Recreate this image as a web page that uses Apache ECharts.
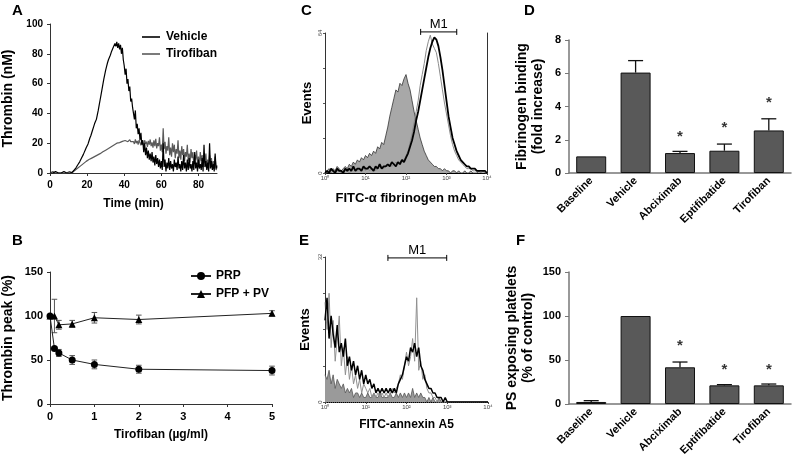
<!DOCTYPE html>
<html><head><meta charset="utf-8">
<script src="https://cdn.jsdelivr.net/npm/echarts@6/dist/echarts.min.js"></script>
<style>html,body{margin:0;padding:0;background:#fff}#c{width:793px;height:463px}</style>
</head><body><div id="c"></div>
<script>
// ---------- Panel A: thrombin generation (nM), sampled every 0.5 min from 0 to 90 ----------
const timeStepA = 0.5;
const vehicleA = [
 0,0,1,0,0,0,1,0,0,0,0,1,0,0,0,1,0,0,0,0,1,0,0,0,
 0.5,1.2,2,2.8,3.5,4.5,5.5,6.5,7.5,8.7,10,11.2,12.5,14,15.5,17,
 18,19.5,21.5,23.5,25,27,29,31,33,34.5,36,39,42,45.5,49,52.5,56,59.5,63,66,
 69,71.5,74,76,77.5,79,81,82.5,84,85,
 87,85,88,84,87,83,86,80,84,76,
 72,66,70,60,63,55,58,48,50,44,
 40,36,42,30,33,26,30,22,27,19,
 22,14,20,12,17,10,15,9,13,8,
 14,7,11,5,12,6,10,4,9,3,
 8,2,20,4,9,1,7,3,10,2,
 8,3,6,1,9,4,7,2,11,3,
 6,1,8,2,12,3,7,1,9,2,
 10,3,6,1,8,2,14,3,7,1,
 9,3,6,2,10,1,19,4,8,2,
 7,1,20,3,8,2,6,1,13,3,
 5];
const tirofibanA = [
 0,0,0,1,0,0,0,0,1,0,0,0,0,0,1,0,0,0,0,0,0,1,0,0,
 0.3,0.8,1.3,1.8,2.3,2.8,3.3,3.8,4.3,4.8,5.3,5.8,6.3,6.8,7.3,7.8,
 8.2,8.6,9,9.3,9.6,10,10.3,10.6,11,11.4,11.7,12,12.4,12.7,13,13.4,13.8,14.2,14.6,15,
 15.3,15.6,16,16.4,16.8,17.2,17.6,18,18.4,18.8,
 19.2,19.6,20,20.5,21,20.4,21.5,20.8,21.2,22,
 20.6,21.8,20.5,22,21,20.3,22.4,21,20.6,22,
 21,19.5,22.5,20,21.5,19,22,20.5,18.5,21.5,
 20,18,22,19.5,21,17.5,21.5,19,22.5,18,
 20.5,17,22,18,23,16.5,20,18,24,15,
 19,14,30,16,21,13,18,15,24,12,
 17,11,20,14,19,10,16,13,22,10,
 15,9,18,12,16,8,14,11,19,8,
 13,7,16,10,14,6,12,9,15,6,
 11,5,14,8,12,4,10,7,13,4,
 9,3,12,6,10,3,8,5,11,2,
 4];
const legendA = ['Vehicle', 'Tirofiban'];

// ---------- Panel B: thrombin peak (%) vs tirofiban dose ----------
const doseB = [0, 0.1, 0.2, 0.5, 1, 2, 5];
const prpB = [100, 63, 58, 50, 45, 39.5, 38];
const prpErrB = [0, 2, 4, 5, 5, 4.5, 5];
const pfpB = [100, 100, 90, 91, 98, 96, 103];
const pfpErrB = [0, 19, 5, 4, 6, 5, 3];

// ---------- Panels C & E: flow cytometry histograms, bins every 0.05 decade from 10^0 to 10^4 ----------
const histStepDecades = 0.05;
const cControl = [0,1,2,1,2,1,3,2,1,2,3, 2,4,3,5,4,6,5,7,6,8, 7,9,8,10,9,12,11,14,13,17,
 21,26,30,34,38,37,41,40,43,45, 41,38,33,28,24,20,16,13,10,8, 6,5,4,3,3,2,2,1,2,1,
 1,0,1,1,0,1,0,0,1,0,0,1,0,0,0,1,0,0,0,0];
const cBlack = [0,1,0,2,1,0,2,1,1,0,2, 1,2,1,3,1,2,2,1,3,2, 2,3,2,1,3,2,4,2,3,3,
 4,3,5,4,3,5,4,6,5,7, 9,12,15,19,24,28,33,38,43,48, 53,57,60,62,61,58,53,47,40,33,
 26,21,16,13,10,8,6,5,4,3, 3,2,2,2,1,1,1,1,1,0];
const cGray = [0,0,1,0,1,0,1,1,0,1,1, 1,0,1,2,1,1,2,1,2,1, 2,1,2,2,1,2,3,2,2,3,
 3,4,3,4,5,4,5,6,6,8, 10,14,18,23,28,33,40,45,50,56, 60,63,59,57,55,50,44,38,32,27,
 22,17,13,10,8,6,5,4,3,2, 2,2,1,1,1,1,0,1,0,0];
const m1C = [230, 1790, 64.5];
const eControl = [6,5,7,4,6,3,5,4,3,4,2, 3,2,3,1,2,2,1,2,1,1, 2,1,1,2,1,1,2,1,1,1,
 1,2,1,1,2,1,2,1,2,1, 2,1,3,1,2,1,2,1,1,0, 1,0,1,0,0,1,0,0,0,0,
 0,0,0,0,0,0,0,0,0,0, 0,0,0,0,0,0,0,0,0,0];
const eBlack = [18,23,14,19,15,12,17,11,13,10,14, 8,10,7,9,6,8,5,7,4,6, 4,5,3,4,2,3,2,3,2,3,
 2,3,2,3,2,4,5,6,8,10, 9,12,11,13,10,12,8,7,5,4, 3,3,2,2,1,1,1,0,1,0,
 0,0,0,0,0,0,0,0,0,0, 0,0,0,0,0,0,0,0,0,0];
const eGray = [22,16,24,12,18,9,14,19,8,12,6, 10,5,8,4,6,3,5,2,4,3, 2,3,1,2,1,2,1,2,1,2,
 1,2,3,2,3,4,6,5,8,11, 8,10,14,9,23,7,9,5,6,3, 2,2,1,1,0,0,0,0,0,0,
 0,0,0,0,0,0,0,0,0,0, 0,0,0,0,0,0,0,0,0,0];
const m1E = [35, 970, 31.8];

// ---------- Panels D & F: bar charts ----------
const categories = ['Baseline', 'Vehicle', 'Abciximab', 'Eptifibatide', 'Tirofiban'];
const fibrinogenD = [1.0, 6.04, 1.2, 1.34, 2.56];
const fibrinogenTopD = [null, 6.76, 1.3, 1.74, 3.26];
const starD = [null, null, 2.16, 2.72, 4.22];
const psF = [2.3, 100, 41.7, 21.2, 21.2];
const psTopF = [3.8, null, 47.7, 22, 22.7];
const starF = [null, null, 65.6, 38.3, 38.3];

// ---------------------------------------------------------------
const FONT = "'Liberation Sans', Arial, Helvetica, sans-serif";
const chart = echarts.init(document.getElementById('c'), null, {renderer: 'canvas', width: 793, height: 463});

const tA = vehicleA.map((_, i) => i * timeStepA);
const pairs = (xs, ys) => ys.map((y, i) => [xs[i], y]);
const bins = cControl.map((_, i) => Math.pow(10, i * histStepDecades));
const sup = {'0': '⁰', '1': '¹', '2': '²', '3': '³', '4': '⁴'};
const logLabel = v => '10' + sup[String(Math.round(Math.log10(v)))];

function errBars(capHalf, color, width, both) {
  return function (params, api) {
    const x = api.value(0), lo = api.value(1), hi = api.value(2);
    const a = api.coord([x, lo]), b = api.coord([x, hi]);
    const st = {stroke: color, lineWidth: width, fill: null};
    const ch = [
      {type: 'line', shape: {x1: a[0], y1: a[1], x2: b[0], y2: b[1]}, style: st},
      {type: 'line', shape: {x1: b[0] - capHalf, y1: b[1], x2: b[0] + capHalf, y2: b[1]}, style: st}
    ];
    if (both) ch.push({type: 'line', shape: {x1: a[0] - capHalf, y1: a[1], x2: a[0] + capHalf, y2: a[1]}, style: st});
    return {type: 'group', children: ch};
  };
}
function m1Render(params, api) {
  const a = api.coord([api.value(0), api.value(2)]);
  const b = api.coord([api.value(1), api.value(2)]);
  const st = {stroke: '#000', lineWidth: 1};
  return {type: 'group', children: [
    {type: 'line', shape: {x1: a[0], y1: a[1], x2: b[0], y2: b[1]}, style: st},
    {type: 'line', shape: {x1: a[0], y1: a[1] - 3, x2: a[0], y2: a[1] + 3}, style: st},
    {type: 'line', shape: {x1: b[0], y1: b[1] - 3, x2: b[0], y2: b[1] + 3}, style: st},
    {type: 'text', x: (a[0] + b[0]) / 2, y: a[1] - 1,
      style: {text: 'M1', fill: '#000', fontSize: 13, fontFamily: FONT, align: 'center', verticalAlign: 'bottom'}}
  ]};
}

const darkAxis = {lineStyle: {color: '#333', width: 1}};
const boldLbl = (size) => ({fontSize: size, fontWeight: 'bold', color: '#000', fontFamily: FONT});
const noSplit = {show: false};

const letters = [['A', 12, 3], ['B', 12, 233], ['C', 301, 3], ['D', 524, 3], ['E', 299, 233], ['F', 516, 233]];

const option = {
  animation: false,
  backgroundColor: '#fff',
  textStyle: {fontFamily: FONT},
  title: letters.map(l => ({text: l[0], left: l[1], top: l[2], padding: 0,
    textStyle: {fontSize: 15, fontWeight: 'bold', color: '#000', fontFamily: FONT}})),
  legend: [
    {data: legendA.map(n => ({name: n, icon: 'rect'})), orient: 'vertical', left: 137, top: 26,
      itemWidth: 18, itemHeight: 1.6, itemGap: 5,
      textStyle: Object.assign(boldLbl(12), {padding: [0, 0, 0, 1]}), selectedMode: false},
    {data: ['PRP', 'PFP + PV'], orient: 'vertical', left: 185, top: 265, itemWidth: 20, itemHeight: 10, itemGap: 6,
      textStyle: Object.assign(boldLbl(12), {padding: [0, 0, 0, 0]}), selectedMode: false}
  ],
  grid: [
    {left: 50, top: 24, width: 167, height: 149},
    {left: 50, top: 272, width: 222, height: 132},
    {left: 325, top: 33, width: 162, height: 140},
    {left: 325, top: 257, width: 163, height: 145},
    {left: 569, top: 40, width: 222, height: 133},
    {left: 569, top: 272, width: 222, height: 132}
  ],
  xAxis: [
    {gridIndex: 0, type: 'value', min: 0, max: 90, splitLine: noSplit, axisLine: darkAxis,
      axisTick: {length: 3, customValues: [0, 20, 40, 60, 80], lineStyle: {color: '#333'}},
      axisLabel: Object.assign(boldLbl(10), {margin: 7, customValues: [0, 20, 40, 60, 80]}),
      name: 'Time (min)', nameLocation: 'middle', nameGap: 25, nameTextStyle: boldLbl(12)},
    {gridIndex: 1, type: 'value', min: 0, max: 5, interval: 1, splitLine: noSplit, axisLine: darkAxis,
      axisTick: {length: 3, lineStyle: {color: '#333'}}, axisLabel: Object.assign(boldLbl(11), {margin: 7}),
      name: 'Tirofiban (µg/ml)', nameLocation: 'middle', nameGap: 25, nameTextStyle: boldLbl(12)},
    {gridIndex: 2, type: 'log', logBase: 10, min: 1, max: 10000, splitLine: noSplit,
      axisLine: {lineStyle: {color: '#000', width: 1}}, axisTick: {length: 2, lineStyle: {color: '#444'}},
      axisLabel: {fontSize: 6, color: '#444', margin: 2, formatter: logLabel},
      name: 'FITC-α fibrinogen mAb', nameLocation: 'middle', nameGap: 19, nameTextStyle: boldLbl(13)},
    {gridIndex: 3, type: 'log', logBase: 10, min: 1, max: 10000, splitLine: noSplit,
      axisLine: {lineStyle: {color: '#000', width: 1, type: 'dotted'}}, axisTick: {length: 2, lineStyle: {color: '#444'}},
      axisLabel: {fontSize: 6, color: '#444', margin: 2, formatter: logLabel},
      name: 'FITC-annexin A5', nameLocation: 'middle', nameGap: 17, nameTextStyle: boldLbl(12)},
    {gridIndex: 4, type: 'category', data: categories, splitLine: noSplit,
      axisLine: {lineStyle: {color: '#777', width: 1.5}}, axisTick: {alignWithLabel: true, length: 4, lineStyle: {color: '#777'}},
      axisLabel: Object.assign(boldLbl(11), {rotate: 45, margin: 6, interval: 0})},
    {gridIndex: 5, type: 'category', data: categories, splitLine: noSplit,
      axisLine: {lineStyle: {color: '#777', width: 1.5}}, axisTick: {alignWithLabel: true, length: 4, lineStyle: {color: '#777'}},
      axisLabel: Object.assign(boldLbl(11), {rotate: 45, margin: 6, interval: 0})}
  ],
  yAxis: [
    {gridIndex: 0, type: 'value', min: 0, max: 100, interval: 20, splitLine: noSplit, axisLine: Object.assign({show: true}, darkAxis),
      axisTick: {show: true, length: 3, lineStyle: {color: '#333'}}, axisLabel: Object.assign(boldLbl(10), {margin: 7}),
      name: 'Thrombin (nM)', nameLocation: 'middle', nameGap: 35, nameTextStyle: boldLbl(14)},
    {gridIndex: 1, type: 'value', min: 0, max: 150, interval: 50, splitLine: noSplit, axisLine: Object.assign({show: true}, darkAxis),
      axisTick: {show: true, length: 3, lineStyle: {color: '#333'}}, axisLabel: Object.assign(boldLbl(11), {margin: 7}),
      name: 'Thrombin peak (%)', nameLocation: 'middle', nameGap: 35, nameTextStyle: boldLbl(14)},
    {gridIndex: 2, type: 'value', min: 0, max: 64, interval: 16, splitLine: noSplit,
      axisLine: {show: true, lineStyle: {color: '#333', width: 1}}, axisTick: {show: true, length: 2, lineStyle: {color: '#555'}},
      axisLabel: {fontSize: 6, color: '#444', margin: 2, rotate: 90, customValues: [0, 64]},
      name: 'Events', nameLocation: 'middle', nameGap: 11, nameTextStyle: boldLbl(13)},
    {gridIndex: 3, type: 'value', min: 0, max: 32, interval: 8, splitLine: noSplit,
      axisLine: {show: true, lineStyle: {color: '#333', width: 1}}, axisTick: {show: true, length: 2, lineStyle: {color: '#555'}},
      axisLabel: {fontSize: 6, color: '#444', margin: 2, rotate: 90, customValues: [0, 32]},
      name: 'Events', nameLocation: 'middle', nameGap: 13, nameTextStyle: boldLbl(13)},
    {gridIndex: 4, type: 'value', min: 0, max: 8, interval: 2, splitLine: noSplit,
      axisLine: {show: true, lineStyle: {color: '#777', width: 1.5}}, axisTick: {show: true, length: 4, lineStyle: {color: '#777'}},
      axisLabel: Object.assign(boldLbl(11), {margin: 8}),
      name: 'Fibrinogen binding\n(fold increase)', nameLocation: 'middle', nameGap: 23,
      nameTextStyle: Object.assign(boldLbl(14), {lineHeight: 16})},
    {gridIndex: 5, type: 'value', min: 0, max: 150, interval: 50, splitLine: noSplit,
      axisLine: {show: true, lineStyle: {color: '#777', width: 1.5}}, axisTick: {show: true, length: 4, lineStyle: {color: '#777'}},
      axisLabel: Object.assign(boldLbl(11), {margin: 8}),
      name: 'PS exposing platelets\n(% of control)', nameLocation: 'middle', nameGap: 33,
      nameTextStyle: Object.assign(boldLbl(14), {lineHeight: 16})},
    {gridIndex: 2, type: 'value', position: 'right', min: 0, max: 64, splitLine: noSplit,
      axisLine: {show: true, lineStyle: {color: '#333', width: 1}}, axisTick: {show: false}, axisLabel: {show: false}}
  ],
  series: [
    // A
    {name: 'Tirofiban', type: 'line', xAxisIndex: 0, yAxisIndex: 0, data: pairs(tA, tirofibanA), symbol: 'none',
      lineStyle: {color: '#5a5a5a', width: 1.2}, itemStyle: {color: '#5a5a5a'}, z: 2},
    {name: 'Vehicle', type: 'line', xAxisIndex: 0, yAxisIndex: 0, data: pairs(tA, vehicleA), symbol: 'none',
      lineStyle: {color: '#000', width: 1.2}, itemStyle: {color: '#000'}, z: 3},
    // B
    {name: 'PRP', type: 'line', xAxisIndex: 1, yAxisIndex: 1, data: pairs(doseB, prpB), symbol: 'circle', symbolSize: 7,
      lineStyle: {color: '#222', width: 1}, itemStyle: {color: '#000'}, z: 3},
    {name: 'PFP + PV', type: 'line', xAxisIndex: 1, yAxisIndex: 1, data: pairs(doseB, pfpB), symbol: 'triangle', symbolSize: 7,
      lineStyle: {color: '#222', width: 1}, itemStyle: {color: '#000'}, z: 3},
    {name: 'PRP err', type: 'custom', xAxisIndex: 1, yAxisIndex: 1, renderItem: errBars(2.8, '#555', 1, true), z: 2,
      data: doseB.map((d, i) => [d, prpB[i] - prpErrB[i], prpB[i] + prpErrB[i]]).filter((r, i) => prpErrB[i] > 0)},
    {name: 'PFP err', type: 'custom', xAxisIndex: 1, yAxisIndex: 1, renderItem: errBars(2.8, '#555', 1, true), z: 2,
      data: doseB.map((d, i) => [d, pfpB[i] - pfpErrB[i], pfpB[i] + pfpErrB[i]]).filter((r, i) => pfpErrB[i] > 0)},
    // C
    {name: 'C control', type: 'line', xAxisIndex: 2, yAxisIndex: 2, data: pairs(bins, cControl), symbol: 'none',
      lineStyle: {color: '#333', width: 0.8}, areaStyle: {color: '#a8a8a8', opacity: 1}, z: 1},
    {name: 'C gray', type: 'line', xAxisIndex: 2, yAxisIndex: 2, data: pairs(bins, cGray), symbol: 'none',
      lineStyle: {color: '#8a8a8a', width: 1}, z: 2},
    {name: 'C black', type: 'line', xAxisIndex: 2, yAxisIndex: 2, data: pairs(bins, cBlack), symbol: 'none',
      lineStyle: {color: '#000', width: 1.8}, z: 3},
    {name: 'C M1', type: 'custom', xAxisIndex: 2, yAxisIndex: 2, renderItem: m1Render, data: [m1C], z: 4},
    // E
    {name: 'E control', type: 'line', xAxisIndex: 3, yAxisIndex: 3, data: pairs(bins, eControl), symbol: 'none',
      lineStyle: {color: '#555', width: 0.8}, areaStyle: {color: '#9a9a9a', opacity: 1}, z: 1},
    {name: 'E gray', type: 'line', xAxisIndex: 3, yAxisIndex: 3, data: pairs(bins, eGray), symbol: 'none',
      lineStyle: {color: '#909090', width: 1}, z: 2},
    {name: 'E black', type: 'line', xAxisIndex: 3, yAxisIndex: 3, data: pairs(bins, eBlack), symbol: 'none',
      lineStyle: {color: '#000', width: 1.5}, z: 3},
    {name: 'E M1', type: 'custom', xAxisIndex: 3, yAxisIndex: 3, renderItem: m1Render, data: [m1E], z: 4},
    // D
    {name: 'Fibrinogen binding', type: 'bar', xAxisIndex: 4, yAxisIndex: 4, data: fibrinogenD, barWidth: 30,
      itemStyle: {color: '#595959', borderColor: '#111', borderWidth: 1}, z: 2},
    {name: 'D err', type: 'custom', xAxisIndex: 4, yAxisIndex: 4, renderItem: errBars(7.5, '#111', 1.3, false), z: 3,
      data: fibrinogenD.map((v, i) => [i, v, fibrinogenTopD[i]]).filter(r => r[2] !== null)},
    {name: 'D stars', type: 'scatter', xAxisIndex: 4, yAxisIndex: 4, symbolSize: 0,
      data: starD.map((v, i) => [i, v]).filter(r => r[1] !== null),
      label: {show: true, position: 'inside', formatter: '*', fontSize: 15, fontWeight: 'bold', color: '#000', fontFamily: FONT}},
    // F
    {name: 'PS exposing', type: 'bar', xAxisIndex: 5, yAxisIndex: 5, data: psF, barWidth: 30,
      itemStyle: {color: '#595959', borderColor: '#111', borderWidth: 1}, z: 2},
    {name: 'F err', type: 'custom', xAxisIndex: 5, yAxisIndex: 5, renderItem: errBars(7.5, '#111', 1.3, false), z: 3,
      data: psF.map((v, i) => [i, v, psTopF[i]]).filter(r => r[2] !== null)},
    {name: 'F stars', type: 'scatter', xAxisIndex: 5, yAxisIndex: 5, symbolSize: 0,
      data: starF.map((v, i) => [i, v]).filter(r => r[1] !== null),
      label: {show: true, position: 'inside', formatter: '*', fontSize: 15, fontWeight: 'bold', color: '#000', fontFamily: FONT}}
  ]
};
chart.setOption(option);
</script>
</body></html>
